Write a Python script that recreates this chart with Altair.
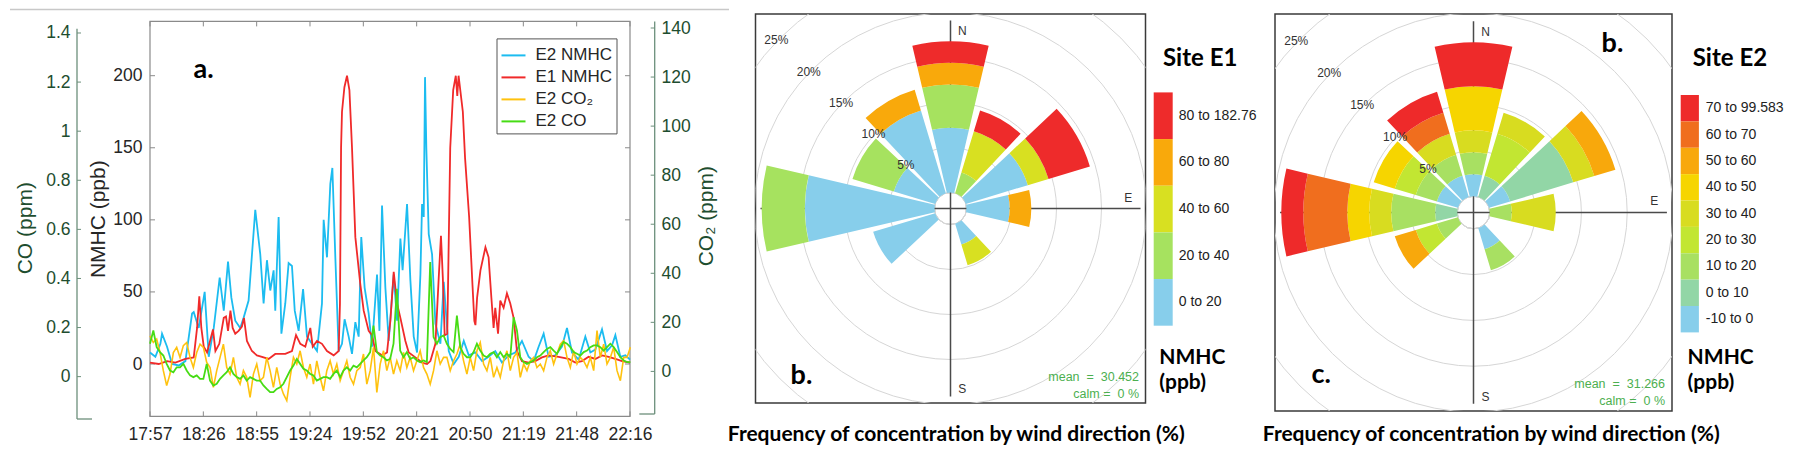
import altair as alt
import numpy as np
import pandas as pd

FONT = "Liberation Sans"
BOLD = "Lato"
DARK = "#262626"
GREEN_TXT = "#1e4d2f"
GREEN_AX = "#6c8f7b"
BOX = "#8a8a8a"

# ------------------------------------------------------------------ data: panel a
time_labels = ["17:57", "18:26", "18:55", "19:24", "19:52", "20:21", "20:50", "21:19", "21:48", "22:16"]
span_minutes = 259
nmhc_ticks = [0, 50, 100, 150, 200]
co_ticks = [0, 0.2, 0.4, 0.6, 0.8, 1, 1.2, 1.4]
co2_ticks = [0, 20, 40, 60, 80, 100, 120, 140]
series_names = ["E2 NMHC", "E1 NMHC", "E2 CO\u2082", "E2 CO"]
series_colors = ["#1cbcf0", "#f02a2a", "#ffc20e", "#46dc14"]

# minutes after 17:57 / ppb
e2_nmhc_t = [0.0, 2.9, 5.6, 6.5, 9.2, 11.9, 15.5, 19.1, 22.7, 23.6,
             26.3, 29.5, 31.7, 34.4, 37.6, 39.8, 42.1, 43.9, 46.0, 48.7,
             50.5, 53.2, 56.8, 59.5, 61.3, 63.1, 64.9, 66.7, 67.6, 69.4,
             70.9, 73.0, 74.8, 76.6, 78.1, 80.2, 82.6, 84.7, 87.4, 90.1,
             92.8, 93.7, 95.5, 97.3, 98.4, 100.0, 101.8, 103.6, 105.0, 107.2,
             109.0, 110.8, 112.6, 114.0, 115.8, 118.0, 119.8, 122.5, 123.8, 125.2,
             127.0, 128.8, 131.5, 133.3, 135.1, 136.3, 138.7, 140.5, 142.3, 144.1,
             145.9, 146.8, 147.7, 148.4, 149.1, 150.4, 152.2, 154.0, 156.7, 158.5,
             161.2, 163.9, 166.6, 169.3, 172.0, 175.6, 179.2, 182.7, 186.3, 189.9,
             193.5, 197.1, 200.7, 204.3, 207.0, 209.7, 212.4, 215.1, 218.7, 222.3,
             225.0, 227.7, 231.3, 234.9, 237.6, 240.3, 243.9, 246.6, 249.3, 251.1,
             253.8, 256.5, 259.0]
e2_nmhc_v = [8, 5, 14, 21, 12, 0, -1, 2, 35, 36,
             25, 50, 5, 25, 60, 37, 71, 46, 30, 25,
             32, 44, 107, 76, 42, 72, 51, 65, 37, 102,
             21, 42, 70, 68, 37, 23, 52, 19, 14, 9,
             42, 100, 74, 125, 136, 74, 9, 14, 31, 19,
             7, 29, 19, 88, 53, 35, 12, 62, 23, 110,
             53, 16, 62, 30, 87, 65, 111, 58, 19, 8,
             62, 111, 102, 199, 150, 90, 76, 28, 14, 57,
             9, 0, 5, 16, 6, 8, 2, 5, 9, 1,
             6, 8, 16, 5, 2, 12, 21, 5, 6, 12,
             25, 8, 3, 19, 8, 10, 24, 9, 13, 20,
             5, 6, 3]

e1_nmhc_t = [0.0, 4.7, 9.2, 13.7, 19.1, 23.6, 25.4, 26.6, 27.7, 29.0,
             30.8, 32.6, 34.0, 35.3, 37.4, 39.8, 41.0, 42.1, 43.4, 44.6,
             46.0, 47.8, 49.6, 50.7, 52.3, 55.0, 57.7, 60.4, 64.0, 67.6,
             73.0, 76.6, 78.8, 81.1, 83.8, 86.5, 87.8, 90.1, 92.8, 95.5,
             99.1, 101.8, 102.5, 103.1, 103.6, 104.9, 106.3, 107.6, 109.0, 110.8,
             113.5, 115.3, 118.0, 119.8, 121.6, 125.2, 127.9, 129.7, 131.5, 133.3,
             135.1, 137.8, 139.6, 143.2, 146.8, 149.5, 151.3, 154.0, 155.8, 157.0,
             158.0, 159.0, 160.4, 162.0, 163.6, 165.0, 165.8, 166.5, 168.8, 170.0,
             172.2, 174.0, 175.0, 175.6, 176.5, 178.3, 181.0, 182.7, 184.2, 185.4,
             186.3, 187.8, 189.0, 190.8, 192.6, 194.4, 196.2, 198.0, 200.7, 204.3,
             207.9, 211.5, 215.1, 220.5, 225.9, 229.5, 233.1, 236.7, 240.3, 243.9,
             247.5, 251.1, 254.7, 259.0]
e1_nmhc_v = [1, 0, 2, 1, 3.5, 4.6, 25, 47, 25, 12,
             8, 17, 24, 9, 14, 32, 33, 23, 37, 25,
             21, 23, 26, 32, 16, 9, 6, 5, 3.5, 7,
             7, 9, 20, 14, 12, 25, 12, 16, 14, 9,
             6, 9, 42, 150, 175, 192, 200, 190, 150, 88,
             55, 37, 23, 20, 9, 6, 8, 30, 64, 42,
             32, 16, 8, 4.6, 1, 0, 2, 14, 60, 89,
             60, 20, 21, 150, 190, 200, 186, 200, 175, 143,
             102, 55, 30, 27, 46, 65, 81, 74, 46, 25,
             39, 21, 44, 39, 49, 42, 32, 9, 2, 1,
             2, 4.6, 6, 5, 3.5, 1, 2, 5, 3.5, 6,
             5, 3.5, 2, 1]

grid_step = 1.8  # minutes between CO / CO2 samples
e2_co2 = [14.5, 11.8, 13.2, 7.7, 0.3, -5.8, -1.1, 7.7, 9.8, 5.7,
          10.5, 11.8, 5.7, 1.6, 7.7, 11.1, 9.8, 3.7, 1.6, -6.5,
          0.3, 5.7, 11.1, 1.6, -1.1, 5.7, -2.4, -5.2, 0.3, -2.4,
          -10.6, -1.1, 3.0, -3.8, -2.4, 5.7, 0.3, -6.5, 1.6, -5.2,
          -9.2, -11.9, -2.4, 5.7, 3.0, 8.4, 1.6, -2.4, 3.0, -5.2,
          4.3, -2.4, -7.9, 0.3, 4.3, -1.1, 3.0, -3.8, 0.3, 4.3,
          -2.4, -5.2, 0.3, 1.6, 7.1, -5.2, 0.3, 9.8, -8.6, 3.0,
          8.4, 0.3, 5.7, -1.1, 4.3, 0.3, 7.7, 1.6, 5.7, 0.3,
          4.3, 8.4, 1.6, -1.1, -5.2, 0.3, 8.4, 3.0, 5.7, 5.7,
          0.3, 4.3, 7.1, 11.1, 4.3, -1.1, 5.7, 0.3, 8.4, 11.8,
          3.0, 0.3, 5.7, -2.4, 1.6, -2.4, 4.3, 8.4, 0.3, 5.7,
          7.7, -2.4, 3.0, 0.3, 4.3, 5.7, 1.6, 3.0, 0.3, 5.7,
          8.4, 3.0, 7.1, 11.1, 12.5, 5.7, 1.6, 8.4, 3.0, 5.7,
          4.3, 1.6, 5.7, 0.3, 16.6, 5.7, 11.1, 3.0, 5.7, 9.8,
          0.3, -3.8, 5.7, 5.7, 9.8]
e2_co = [0.134, 0.188, 0.120, 0.100, 0.086, 0.052, 0.025, 0.018, 0.038, 0.038,
         0.052, 0.025, 0.005, -0.002, 0.005, -0.009, -0.009, 0.052, -0.016, -0.036,
         -0.029, -0.009, 0.005, 0.018, 0.038, 0.011, -0.002, -0.009, 0.005, -0.016,
         -0.002, -0.009, -0.016, -0.016, -0.036, -0.050, -0.063, -0.063, -0.050, -0.043,
         -0.029, -0.002, 0.025, 0.045, 0.072, 0.052, 0.032, 0.025, 0.011, 0.005,
         -0.016, -0.009, -0.002, -0.002, -0.009, 0.011, 0.025, -0.002, 0.025, 0.038,
         0.025, 0.045, 0.038, 0.052, 0.066, 0.079, 0.100, 0.208, 0.100, 0.086,
         0.079, 0.066, 0.072, 0.134, 0.358, 0.106, 0.079, 0.100, 0.072, 0.079,
         0.066, 0.059, 0.066, 0.059, 0.467, 0.161, 0.134, 0.161, 0.168, 0.134,
         0.113, 0.100, 0.249, 0.120, 0.093, 0.079, 0.079, 0.100, 0.134, 0.106,
         0.086, 0.079, 0.093, 0.100, 0.079, 0.100, 0.079, 0.093, 0.079, 0.242,
         0.188, 0.079, 0.059, 0.052, 0.059, 0.066, 0.079, 0.086, 0.100, 0.113,
         0.120, 0.106, 0.093, 0.120, 0.141, 0.134, 0.120, 0.100, 0.093, 0.086,
         0.100, 0.106, 0.120, 0.127, 0.127, 0.120, 0.106, 0.120, 0.134, 0.120,
         0.100, 0.079, 0.066, 0.059, 0.059]

# ------------------------------------------------------------------ data: wind roses
wind_dirs = [0, 30, 60, 90, 150, 240, 270, 300, 330]
ring_levels = [5, 10, 15, 20, 25]
e1_bins = ["0 to 20", "20 to 40", "40 to 60", "60 to 80", "80 to 182.76"]
e1_colors = ["#87ceeb", "#a6e25f", "#d8e021", "#f9a90b", "#ee2b2b"]
e1_freq = [  # % per concentration bin, per direction
    [7.2, 4.8, 0, 2.4, 2.4],
    [0, 2.4, 4.8, 0, 2.4],
    [7.2, 0, 2.4, 0, 4.8],
    [4.8, 0, 0, 2.4, 0],
    [2.4, 0, 2.4, 0, 0],
    [7.2, 0, 0, 0, 0],
    [14.4, 4.8, 0, 0, 0],
    [4.8, 4.8, 0, 0, 0],
    [9.6, 0, 0, 2.4, 0],
]
e2_bins = ["-10 to 0", "0 to 10", "10 to 20", "20 to 30", "30 to 40",
           "40 to 50", "50 to 60", "60 to 70", "70 to 99.583"]
e2_colors = ["#87ceeb", "#92d6a6", "#a8e062", "#c2e632", "#d8dc20",
             "#f6d500", "#f8a80c", "#f06e1e", "#ee2a2a"]
e2_freq = [
    [2.4, 0, 2.4, 0, 2.4, 4.8, 0, 0, 4.8],
    [0, 2.4, 0, 4.8, 2.4, 0, 0, 0, 0],
    [2.4, 7.2, 0, 0, 2.4, 0, 2.4, 0, 0],
    [0, 0, 2.4, 0, 4.8, 0, 0, 0, 0],
    [2.4, 0, 2.4, 0, 0, 0, 0, 0, 0],
    [0, 0, 2.4, 2.4, 0, 0, 2.4, 0, 0],
    [0, 2.4, 4.8, 0, 2.4, 2.4, 0, 4.8, 2.4],
    [2.4, 0, 2.4, 2.4, 0, 2.4, 0, 0, 0],
    [2.4, 0, 2.4, 0, 2.4, 0, 0, 2.4, 2.4],
]
e1_mean, e2_mean = "30.452", "31.266"
caption = "Frequency of concentration by wind direction (%)"

one = pd.DataFrame({"k": [0]})
NB = "\u00a0"


def txt(s, x, y, size, color="#000000", font=FONT, weight="normal", align="left", baseline="alphabetic"):
    return alt.Chart(one).mark_text(text=s, fontSize=size, font=font, fontWeight=weight, color=color,
                                    align=align, baseline=baseline).encode(x=alt.value(x), y=alt.value(y))


# ------------------------------------------------------------------ panel a
PW = 480          # plotted width of the time axis
WA, HA = 475.7, 402.4   # view size (view top sits 7.4 px above the plot box)
BT = 7.4          # plot box top inside the view
step = span_minutes / (len(time_labels) - 1)
tick_minutes = [round(i * step, 4) for i in range(len(time_labels))]
lab_arr = "[" + ",".join("'%s'" % s for s in time_labels) + "]"
x_scale = alt.Scale(domain=[0, span_minutes], range=[0, PW], nice=False, zero=False)
x_axis = alt.Axis(values=tick_minutes, labelExpr=f"{lab_arr}[round(datum.value / {step})]", title=None,
                  grid=False, domain=False, ticks=False, tickSize=0, labelPadding=9, labelFontSize=17.5,
                  labelFont=FONT, labelColor=DARK, labelFlush=False, labelOverlap=False)
xenc = alt.X("t:Q", scale=x_scale, axis=x_axis)

legend = alt.Legend(orient="none", legendX=346.5, legendY=24.4, title=None, strokeColor="#555555",
                    fillColor="#ffffff", padding=4, symbolType="stroke", symbolSize=576,
                    symbolStrokeWidth=2, labelFontSize=17, labelFont=FONT, labelColor=DARK,
                    labelOffset=9, rowPadding=1, direction="vertical")
cenc = alt.Color("series:N", scale=alt.Scale(domain=series_names, range=series_colors), legend=legend)

nmhc_scale = alt.Scale(domain=[-36.35, 242.8], nice=False, zero=False)
co_scale = alt.Scale(domain=[-0.162, 1.4774], nice=False, zero=False)
co2_scale = alt.Scale(domain=[-18.35, 145.71], nice=False, zero=False)

nmhc_axis = alt.Axis(orient="left", values=nmhc_ticks, title="NMHC (ppb)", grid=False, domain=False,
                     ticks=False, tickSize=0, labelPadding=8, labelFontSize=17.5, labelFont=FONT,
                     labelColor=DARK, titleFontSize=21, titleFont=FONT, titleFontWeight="normal",
                     titleColor=DARK, titlePadding=4, titleY=204.7, labelFlush=False)
co_axis = alt.Axis(orient="left", offset=73, values=co_ticks, format="~g", title="CO (ppm)", grid=False,
                   domain=False, ticks=False, tickSize=0, labelPadding=7, labelFontSize=17.5, labelFont=FONT,
                   labelColor=GREEN_TXT, titleFontSize=21, titleFont=FONT, titleFontWeight="normal",
                   titleColor=GREEN_TXT, titlePadding=10.5, titleY=213.7, labelFlush=False)
co2_axis = alt.Axis(orient="right", offset=PW + 24.7 - WA, values=co2_ticks, title="CO\u2082 (ppm)",
                    grid=False, domain=False, ticks=False, tickSize=0, labelPadding=6.3, labelFontSize=17.5,
                    labelFont=FONT, labelColor=GREEN_TXT, titleFontSize=21, titleFont=FONT,
                    titleFontWeight="normal", titleColor=GREEN_TXT, titlePadding=5, titleAngle=270,
                    titleBaseline="top", titleY=201.7, labelFlush=False)

nmhc_df = pd.concat([
    pd.DataFrame({"t": e2_nmhc_t, "v": e2_nmhc_v, "series": series_names[0]}),
    pd.DataFrame({"t": e1_nmhc_t, "v": e1_nmhc_v, "series": series_names[1]}),
])
co_df = pd.DataFrame({"t": [round(i * grid_step, 2) for i in range(len(e2_co))], "v": e2_co,
                      "series": series_names[3]})
co2_df = pd.DataFrame({"t": [round(i * grid_step, 2) for i in range(len(e2_co2))], "v": e2_co2,
                       "series": series_names[2]})

box = alt.Chart(one).mark_rect(fillOpacity=0, stroke=BOX, strokeWidth=1.2).encode(
    x=alt.value(0), x2=alt.value(PW), y=alt.value(BT), y2=alt.value(HA))
nmhc_lines = alt.Chart(nmhc_df).mark_line(strokeWidth=1.8).encode(
    x=xenc, y=alt.Y("v:Q", scale=nmhc_scale, axis=nmhc_axis), color=cenc, order=alt.Order("t:Q"))
ny_df = pd.DataFrame({"v": nmhc_ticks})
tick_style = dict(color=BOX, strokeWidth=1)
ny_left = alt.Chart(ny_df).mark_rule(**tick_style).encode(
    y=alt.Y("v:Q", scale=nmhc_scale, axis=None), x=alt.value(0), x2=alt.value(5))
ny_right = alt.Chart(ny_df).mark_rule(**tick_style).encode(
    y=alt.Y("v:Q", scale=nmhc_scale, axis=None), x=alt.value(PW), x2=alt.value(PW - 5))
xt_df = pd.DataFrame({"t": tick_minutes})
xt_bot = alt.Chart(xt_df).mark_rule(**tick_style).encode(x=xenc, y=alt.value(HA), y2=alt.value(HA - 5))
xt_top = alt.Chart(xt_df).mark_rule(**tick_style).encode(x=xenc, y=alt.value(BT), y2=alt.value(BT + 5))
top_line = alt.Chart(one).mark_rule(color="#c8c8c8", strokeWidth=1.5).encode(
    x=alt.value(-140), x2=alt.value(579), y=alt.value(-4.55))
a_label = txt("a.", 43.5, 64, 27, font=BOLD, weight="bold")

co2_line = alt.Chart(co2_df).mark_line(strokeWidth=1.6).encode(
    x=xenc, y=alt.Y("v:Q", scale=co2_scale, axis=co2_axis), color=cenc, order=alt.Order("t:Q"))
c2_df = pd.DataFrame({"v": co2_ticks})
co2_ticks_r = alt.Chart(c2_df).mark_rule(color=GREEN_AX, strokeWidth=1).encode(
    y=alt.Y("v:Q", scale=co2_scale, axis=None), x=alt.value(PW + 24.7), x2=alt.value(PW + 20.7))
co2_dom = alt.Chart(one).mark_rule(color=GREEN_AX, strokeWidth=1.3).encode(
    x=alt.value(PW + 24.7), y=alt.value(BT), y2=alt.value(400))
co2_foot = alt.Chart(one).mark_rule(color=GREEN_AX, strokeWidth=1.3).encode(
    x=alt.value(PW + 9.3), x2=alt.value(PW + 24.7), y=alt.value(400))

co_line = alt.Chart(co_df).mark_line(strokeWidth=1.8).encode(
    x=xenc, y=alt.Y("v:Q", scale=co_scale, axis=co_axis), color=cenc, order=alt.Order("t:Q"))
c_df = pd.DataFrame({"v": co_ticks})
co_ticks_r = alt.Chart(c_df).mark_rule(color=GREEN_AX, strokeWidth=1).encode(
    y=alt.Y("v:Q", scale=co_scale, axis=None), x=alt.value(-73), x2=alt.value(-69))
co_dom = alt.Chart(one).mark_rule(color=GREEN_AX, strokeWidth=1.3).encode(
    x=alt.value(-73), y=alt.value(14.7), y2=alt.value(405))
co_foot = alt.Chart(one).mark_rule(color=GREEN_AX, strokeWidth=1.3).encode(
    x=alt.value(-73), x2=alt.value(-58), y=alt.value(405))

panel_a = alt.layer(
    top_line, box, xt_bot, xt_top, ny_left, ny_right,
    co2_dom, co2_foot, co2_ticks_r, co_dom, co_foot, co_ticks_r,
    nmhc_lines, co2_line, co_line, a_label,
).resolve_scale(y="independent").properties(
    width=WA, height=HA, view=alt.ViewBackground(stroke="transparent"))

# ------------------------------------------------------------------ wind roses
HALF = 13.2


def petal_table(freq, bins):
    rows = []
    for d, fr in zip(wind_dirs, freq):
        cum = 0.0
        for b, f in zip(bins, fr):
            if f > 0:
                rows.append({"dir": d, "bin": b, "r0": cum, "r1": cum + f, "t0": d - HALF, "t1": d + HALF})
                cum += f
    return pd.DataFrame(rows)


def rose(freq, bins, colors, w, h, r_in, r_step, bar, site, mean_txt, letters, cap_x):
    k = w / 390.0
    cx, cy = w / 2, h / 2
    th = alt.Scale(domain=[0, 360], range=[0, 2 * np.pi])
    rs = alt.Scale(type="linear", domain=[0, 25], range=[r_in, r_in + 25 * r_step], zero=False, nice=False)
    cs = alt.Scale(domain=bins, range=colors)

    ring_df = pd.DataFrame({"ring": ring_levels, "a0": 0, "a1": 360})
    rings = alt.Chart(ring_df).mark_arc(fillOpacity=0, stroke="#d6d6d6", strokeWidth=1, clip=True).encode(
        theta=alt.Theta("a0:Q", scale=th), theta2="a1:Q", radius=alt.Radius("ring:Q", scale=rs))
    vline = alt.Chart(one).mark_rule(color="#4a4a4a", strokeWidth=1.5).encode(
        x=alt.value(cx), y=alt.value(cy - 188 * k), y2=alt.value(cy + 188 * k))
    hline = alt.Chart(one).mark_rule(color="#4a4a4a", strokeWidth=1.5).encode(
        y=alt.value(cy), x=alt.value(cx - 190 * k), x2=alt.value(cx + 190 * k))
    petals = alt.Chart(petal_table(freq, bins)).mark_arc().encode(
        theta=alt.Theta("t0:Q", scale=th), theta2="t1:Q",
        radius=alt.Radius("r1:Q", scale=rs), radius2="r0:Q",
        color=alt.Color("bin:N", scale=cs, legend=None))
    pct_df = pd.DataFrame({"lab": ["%d%%" % v for v in ring_levels],
                           "f": [v + 0.12 for v in ring_levels], "ang": 314})
    pct = alt.Chart(pct_df).mark_text(fontSize=12, font=FONT, color="#333333").encode(
        theta=alt.Theta("ang:Q", scale=th), radius=alt.Radius("f:Q", scale=rs), text="lab:N")
    comp_df = pd.DataFrame({"lab": ["N", "E", "S"], "ang": [3.8, 86.5, 176.3], "f": [18.0, 18.0, 18.35]})
    comp = alt.Chart(comp_df).mark_text(fontSize=12, font=FONT, color="#333333").encode(
        theta=alt.Theta("ang:Q", scale=th), radius=alt.Radius("f:Q", scale=rs), text="lab:N")

    desc = list(reversed(bins))
    bar_df = pd.DataFrame({"bin": desc})
    ys = alt.Scale(domain=desc, range=[bar["y0"], bar["y1"]], paddingInner=0, paddingOuter=0)
    bar_rect = alt.Chart(bar_df).mark_rect().encode(
        x=alt.value(bar["x0"]), x2=alt.value(bar["x1"]), y=alt.Y("bin:N", scale=ys, axis=None),
        color=alt.Color("bin:N", scale=cs, legend=None))
    bar_text = alt.Chart(bar_df).mark_text(fontSize=14, font=FONT, color="#222222", align="left",
                                           baseline="middle").encode(
        x=alt.value(bar["lx"]), y=alt.Y("bin:N", scale=ys, axis=None), text="bin:N")

    layers = [rings, vline, hline, petals, pct, comp, bar_rect, bar_text,
              txt(site, bar["sx"], 51.7, 24, font=BOLD, weight="bold"),
              txt("NMHC", bar["nx"], 350, 21, font=BOLD, weight="bold"),
              txt("(ppb)", bar["nx"], 375, 21, font=BOLD, weight="bold"),
              txt("mean" + NB + NB + "=" + NB + NB + mean_txt, bar["mx"], bar["my"], 12.5,
                  color="#4caf50", align="right"),
              txt("calm" + NB + "=" + NB + NB + "0" + NB + "%", bar["mx"], bar["my"] + 17.5, 12.5,
                  color="#4caf50", align="right"),
              txt(caption, cap_x, 426.5, 21, font=BOLD, weight="bold", align="center")]
    for s, x, y in letters:
        layers.append(txt(s, x, y, 27, font=BOLD, weight="bold"))
    return alt.layer(*layers).properties(width=w, height=h,
                                         view=alt.ViewBackground(stroke="#3a3a3a", strokeWidth=1.5))


rose1 = rose(e1_freq, e1_bins, e1_colors, 390, 389, 16, 9.0,
             dict(x0=398.2, x1=417.2, y0=78.4, y1=311.7, lx=423.2, sx=407.5, nx=403.8, mx=383.5, my=366.7),
             "Site E1", e1_mean, [("b.", 35.1, 370)], 200.8)
rose2 = rose(e2_freq, e2_bins, e2_colors, 397, 397, 16.3, 9.16,
             dict(x0=405.7, x1=423.9, y0=81, y1=318.4, lx=430.8, sx=417.7, nx=412.6, mx=390, my=373.7),
             "Site E2", e2_mean, [("b.", 326.6, 38), ("c.", 36.6, 368.7)], 216.3)

chart = alt.hconcat(panel_a, rose1, rose2, spacing=129.5, bounds="flush").resolve_scale(
    color="independent", theta="independent", radius="independent", y="independent", x="independent"
).properties(padding=0).configure_view(stroke="transparent").configure(font=FONT)

chart.save("out.html", embed_options={"renderer": "svg", "actions": False})
